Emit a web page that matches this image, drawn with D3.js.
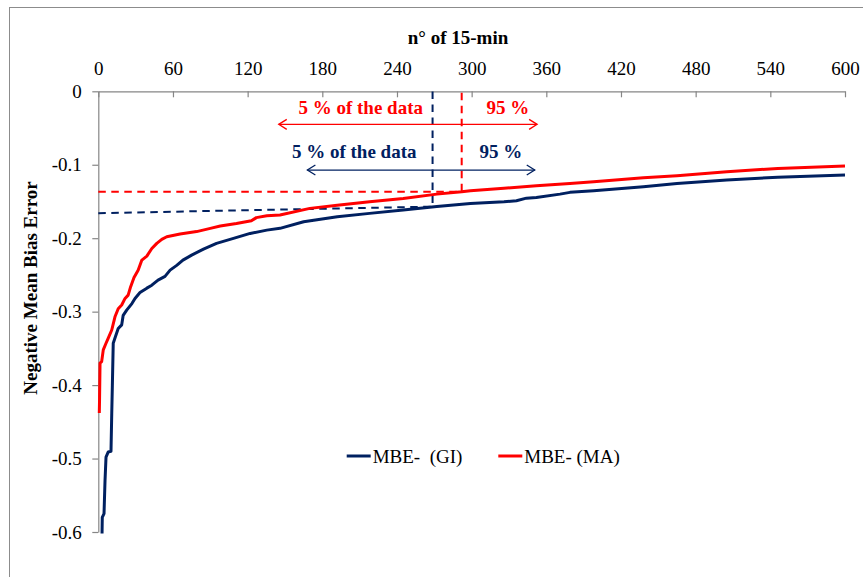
<!DOCTYPE html>
<html>
<head>
<meta charset="utf-8">
<script src="https://cdn.jsdelivr.net/npm/d3@7"></script>
<style>
  html, body { margin: 0; padding: 0; background: #fff; }
  svg { display: block; }
  text { font-family: "Liberation Serif", "Times New Roman", serif; }
</style>
</head>
<body>
<svg id="chart" width="863" height="577"></svg>
<script>
// Sorted negative mean bias error, by number of 15-min intervals
const nGI = [3, 3.2, 4.6, 5.4, 6.2, 8, 10.2, 10.8, 11.3, 12, 13.4, 16, 18.8, 20, 22.8, 27, 29.5, 33.5, 39, 43, 48, 53.6, 57.7, 63, 68, 75, 84.5, 95, 108.6, 122, 135.4, 146, 165, 192, 218, 245, 272, 299, 326, 336, 344, 352, 371, 379, 398, 438, 465, 505, 546, 600];
const mbeGI = [-0.602, -0.58, -0.575, -0.53, -0.498, -0.491, -0.49, -0.439, -0.40, -0.343, -0.336, -0.323, -0.318, -0.305, -0.298, -0.289, -0.282, -0.274, -0.268, -0.264, -0.257, -0.252, -0.2435, -0.237, -0.2298, -0.223, -0.215, -0.207, -0.2003, -0.1935, -0.189, -0.1866, -0.1776, -0.1708, -0.1662, -0.1617, -0.157, -0.1526, -0.1504, -0.149, -0.1455, -0.1445, -0.140, -0.1376, -0.1354, -0.130, -0.1254, -0.1208, -0.117, -0.114];

const nMA = [0.8, 1, 1.4, 2.7, 4, 6.2, 8, 10.8, 13.4, 16, 18.8, 21.5, 24, 26, 28.7, 32, 35, 39, 43, 47, 51, 55, 65.7, 79, 90, 98, 111, 123, 127, 135.4, 146, 170, 192, 218, 245, 272, 292, 299, 326, 352, 379, 398, 438, 465, 505, 546, 600];
const mbeMA = [-0.438, -0.42, -0.37, -0.368, -0.352, -0.343, -0.336, -0.325, -0.307, -0.296, -0.291, -0.282, -0.2775, -0.266, -0.2534, -0.2435, -0.2298, -0.2244, -0.214, -0.207, -0.2016, -0.198, -0.1944, -0.191, -0.1866, -0.1835, -0.180, -0.1763, -0.172, -0.1695, -0.1685, -0.1594, -0.155, -0.1504, -0.146, -0.140, -0.1368, -0.1354, -0.132, -0.1286, -0.1254, -0.123, -0.1177, -0.115, -0.1095, -0.105, -0.1018];

const xTicks = [0, 60, 120, 180, 240, 300, 360, 420, 480, 540, 600];
const yTicks = [0, -0.1, -0.2, -0.3, -0.4, -0.5, -0.6];
const yTickLabels = ["0", "-0.1", "-0.2", "-0.3", "-0.4", "-0.5", "-0.6"];

// 95th-percentile guide lines: [n, value] endpoints
const guideGI = [[0, -0.1659], [268.6, -0.157], [268.6, 0]];
const guideMA = [[0, -0.1368], [292, -0.1368], [292, 0]];
// Double-headed range arrows: [nStart, nEnd, value]
const arrowMA = [145, 352.6, -0.045];
const arrowGI = [168, 350.7, -0.1072];

const seriesNames = ["MBE-  (GI)", "MBE- (MA)"];
const colGI = "#002060", colMA = "#ff0000", axisCol = "#868686";

const svg = d3.select("#chart");
const FS = 19;

// frame
svg.append("rect").attr("x", 9.5).attr("y", 7.5).attr("width", 900).attr("height", 700)
  .attr("fill", "none").attr("stroke", "#8c8c8c").attr("stroke-width", 1);

const x = d3.scaleLinear().domain([0, 600]).range([98.3, 845]);
const y = d3.scaleLinear().domain([0, -0.6]).range([91.3, 532]);

// top x axis, ticks pointing into the plot
const gx = svg.append("g").attr("transform", `translate(0,${y(0)})`)
  .call(d3.axisTop(x).tickValues(xTicks).tickFormat(d3.format("d"))
    .tickSizeInner(-6).tickSizeOuter(0).tickPadding(16));
gx.selectAll("path, line").attr("stroke", axisCol).attr("stroke-width", 1.2);
gx.selectAll("text").attr("font-size", FS).attr("fill", "#000")
  .attr("font-family", "Liberation Serif");

const gy = svg.append("g").attr("transform", `translate(${x(0)},0)`)
  .call(d3.axisLeft(y).tickValues(yTicks).tickFormat((d, i) => yTickLabels[i])
    .tickSizeInner(6).tickSizeOuter(0).tickPadding(10.5));
gy.selectAll("path, line").attr("stroke", axisCol).attr("stroke-width", 1.2);
gy.selectAll("text").attr("font-size", FS).attr("fill", "#000")
  .attr("font-family", "Liberation Serif");

// titles
svg.append("text").attr("x", 458).attr("y", 44).attr("text-anchor", "middle")
  .attr("font-size", FS).attr("font-weight", "bold").text("n° of 15-min");
svg.append("text").attr("transform", "translate(36.5,288) rotate(-90)")
  .attr("text-anchor", "middle").attr("font-size", FS).attr("font-weight", "bold")
  .text("Negative Mean Bias Error");

// guide lines
const guideLine = d3.line().x(d => x(d[0])).y(d => y(d[1]));
svg.append("path").datum(guideGI).attr("d", guideLine).attr("fill", "none")
  .attr("stroke", colGI).attr("stroke-width", 2).attr("stroke-dasharray", "7.5,5.5");
svg.append("path").datum(guideMA).attr("d", guideLine).attr("fill", "none")
  .attr("stroke", colMA).attr("stroke-width", 2).attr("stroke-dasharray", "7.5,5.5");

// curves
const line = d3.line().x(d => x(d[0])).y(d => y(d[1]));
svg.append("path").datum(d3.zip(nGI, mbeGI)).attr("d", line).attr("fill", "none")
  .attr("stroke", colGI).attr("stroke-width", 3).attr("stroke-linejoin", "round");
svg.append("path").datum(d3.zip(nMA, mbeMA)).attr("d", line).attr("fill", "none")
  .attr("stroke", colMA).attr("stroke-width", 3).attr("stroke-linejoin", "round");

// range arrows
function arrow(a, col) {
  const x0 = x(a[0]), x1 = x(a[1]), yy = y(a[2]);
  const g = svg.append("g").attr("stroke", col).attr("stroke-width", 1.3).attr("fill", "none");
  g.append("line").attr("x1", x0).attr("x2", x1).attr("y1", yy).attr("y2", yy);
  g.append("path").attr("d", `M${x0 + 8},${yy - 5}L${x0},${yy}L${x0 + 8},${yy + 5}`);
  g.append("path").attr("d", `M${x1 - 8},${yy - 5}L${x1},${yy}L${x1 - 8},${yy + 5}`);
}
arrow(arrowMA, colMA);
arrow(arrowGI, colGI);

// annotation labels
function label(tx, n, v, col) {
  svg.append("text").attr("x", x(n)).attr("y", y(v)).attr("font-size", FS)
    .attr("font-weight", "bold").attr("fill", col).text(tx);
}
label("5 % of the data", 160.8, -0.0314, colMA);
label("95 %", 311.9, -0.0314, colMA);
label("5 % of the data", 155.6, -0.0913, colGI);
label("95 %", 306.4, -0.0913, colGI);

// legend
const legend = [[346.7, colGI, seriesNames[0]], [498.3, colMA, seriesNames[1]]];
legend.forEach(([lx, col, name]) => {
  svg.append("line").attr("x1", lx).attr("x2", lx + 24).attr("y1", 456).attr("y2", 456)
    .attr("stroke", col).attr("stroke-width", 3);
  svg.append("text").attr("x", lx + 26).attr("y", 463).attr("font-size", FS)
    .attr("fill", "#000").attr("xml:space", "preserve").style("white-space", "pre").text(name);
});
</script>
</body>
</html>
